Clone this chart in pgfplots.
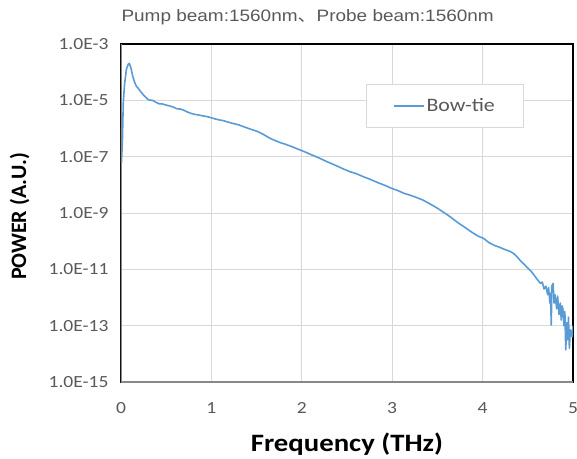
\documentclass[border=0pt]{standalone}
\usepackage{fontspec}
\setmainfont{Carlito}[FakeStretch=1.15]
\newfontfamily\carlitoplain{Carlito}
\newfontfamily\arial{Liberation Sans}[FakeStretch=1.15]
\newfontfamily\cjk{Noto Sans CJK JP}[FakeStretch=1.15]
\usepackage{pgfplots}
\pgfplotsset{compat=1.18}

\definecolor{exblue}{HTML}{5B9BD5}
\definecolor{txtgray}{HTML}{595959}
\definecolor{gridgray}{HTML}{D9D9D9}
\definecolor{axgray}{HTML}{898989}

\begin{document}
\begin{tikzpicture}
\begin{axis}[
    name=ax,
    scale only axis,
    width=452pt, height=338pt,
    xmin=0, xmax=5,
    ymode=log,
    ymin=1e-15, ymax=1e-3,
    xtick={0,1,2,3,4,5},
    ytick={1e-15,1e-13,1e-11,1e-9,1e-7,1e-5,1e-3},
    yticklabels={1.0E-15,1.0E-13,1.0E-11,1.0E-9,1.0E-7,1.0E-5,1.0E-3},
    minor ytick={},
    /pgf/number format/assume math mode=true,
    major tick length=0pt,
    xticklabel style={font=\fontsize{17}{19}\selectfont, text=txtgray},
    xticklabel shift=17pt,
    yticklabel style={font=\fontsize{17}{19}\selectfont, text=txtgray},
    yticklabel shift=9pt,
    grid=major,
    major grid style={gridgray, line width=1pt},
    axis line style={draw=black, line width=1.4pt},
    ylabel={\carlitoplain\bfseries POWER (A.U.)},
    ylabel style={font=\fontsize{22}{24}\selectfont, at={(axis description cs:-0.21,0.49)}, anchor=base},
    title={\arial Pump beam:1560nm{\cjk 、}Probe beam:1560nm},
    title style={font=\fontsize{16.5}{18}\selectfont, text=txtgray, at={(axis description cs:0.413,1.05)}, anchor=base},
    legend style={at={(axis description cs:0.542,0.882)}, anchor=north west, draw=gridgray, line width=1pt,
      inner xsep=27pt, inner ysep=12pt, font=\fontsize{19}{21}\selectfont, text=txtgray,
      nodes={inner xsep=1.5pt}},
    legend image code/.code={\draw[#1] (0pt,0pt) -- (30pt,0pt);},
]
\addplot[exblue, line width=1.6pt, line join=round] coordinates {
(0.000,1.0e-6) (0.005,6.31e-8) (0.015,3.16e-7) (0.025,7.94e-6) (0.04,3.98e-5)
(0.06,1.26e-4) (0.08,1.91e-4) (0.092,2.04e-4) (0.11,1.41e-4) (0.13,7.08e-5)
(0.15,4.47e-5) (0.17,3.16e-5) (0.19,2.69e-5) (0.22,2.0e-5) (0.26,1.41e-5)
(0.30,1.07e-5) (0.32,1.02e-5) (0.35,1.0e-5) (0.38,8.71e-6) (0.42,7.59e-6)
(0.46,7.41e-6) (0.50,6.76e-6) (0.54,6.31e-6) (0.58,5.75e-6) (0.62,5.01e-6)
(0.66,4.90e-6) (0.70,4.37e-6) (0.74,3.80e-6) (0.78,3.39e-6) (0.82,3.16e-6)
(0.86,3.02e-6) (0.90,2.82e-6) (0.94,2.69e-6) (0.98,2.51e-6) (1.03,2.24e-6)
(1.08,2.04e-6) (1.13,1.91e-6) (1.18,1.70e-6) (1.24,1.51e-6) (1.30,1.35e-6)
(1.36,1.15e-6) (1.42,9.77e-7) (1.46,8.91e-7) (1.52,7.59e-7) (1.58,6.03e-7)
(1.65,4.47e-7) (1.70,3.80e-7) (1.76,3.16e-7) (1.82,2.75e-7) (1.88,2.34e-7)
(1.94,1.95e-7) (1.98,1.74e-7) (2.05,1.41e-7) (2.12,1.12e-7) (2.20,8.71e-8)
(2.28,6.61e-8) (2.36,5.13e-8) (2.45,3.80e-8) (2.53,2.95e-8) (2.60,2.51e-8)
(2.68,1.95e-8) (2.76,1.55e-8) (2.84,1.20e-8) (2.92,9.55e-9) (2.99,7.59e-9)
(3.06,6.31e-9) (3.13,5.01e-9) (3.20,4.27e-9) (3.27,3.55e-9) (3.34,2.88e-9)
(3.42,2.09e-9) (3.50,1.48e-9) (3.57,1.05e-9) (3.64,7.41e-10) (3.72,4.68e-10)
(3.80,3.16e-10) (3.88,2.09e-10) (3.95,1.51e-10) (4.01,1.26e-10) (4.07,8.91e-11)
(4.13,7.08e-11) (4.19,6.03e-11) (4.25,5.01e-11) (4.30,4.37e-11) (4.34,3.72e-11)
(4.38,2.82e-11) (4.42,2.0e-11) (4.46,1.51e-11) (4.49,1.20e-11) (4.52,9.55e-12)
(4.55,7.59e-12) (4.58,5.62e-12) (4.61,4.17e-12) (4.64,3.16e-12) (4.66,3.55e-12)
(4.68,2.0e-12) (4.70,2.51e-12) (4.72,1.26e-12) (4.73,2.24e-12) (4.745,6.31e-13)
(4.75,1.41e-12) (4.76,1.05e-13) (4.765,2.51e-12) (4.78,3.16e-12) (4.79,6.31e-13)
(4.80,1.26e-12) (4.82,3.98e-13) (4.83,1.12e-12) (4.845,2.51e-13) (4.86,6.31e-13)
(4.87,1.58e-13) (4.88,5.01e-13) (4.89,3.63e-13) (4.90,1.0e-13) (4.91,3.16e-13)
(4.92,1.38e-14) (4.93,1.26e-13) (4.94,3.16e-14) (4.95,2.0e-13) (4.96,1.58e-14)
(4.97,7.08e-14) (4.98,6.31e-14) (4.99,3.98e-14) (5.00,1.0e-13)
};
\addlegendentry{Bow-tie}
\draw[axgray, line width=2pt] (rel axis cs:0,1) -- (rel axis cs:0,0) -- (rel axis cs:1,0);
\end{axis}
\node[anchor=base, font=\fontsize{25}{27}\selectfont\bfseries] at ([shift={(226pt,-69pt)}]ax.south west) {Frequency (THz)};
\pgfresetboundingbox
\path[use as bounding box] ([shift={(-121pt,-76pt)}]ax.south west) rectangle ([shift={(456pt,382pt)}]ax.south west);
\end{tikzpicture}
\end{document}
